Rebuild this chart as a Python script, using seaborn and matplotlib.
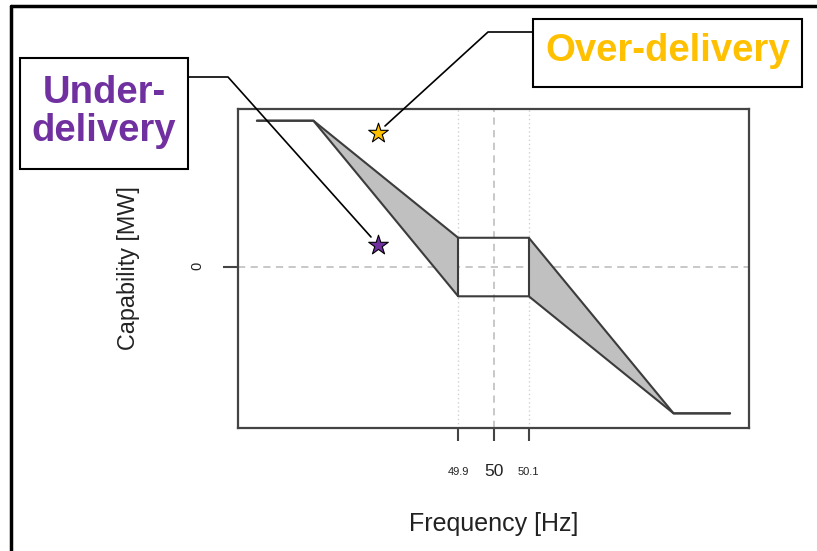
import numpy as np
import pandas as pd
import matplotlib
matplotlib.use("Agg")
import matplotlib.pyplot as plt
from matplotlib.patches import Rectangle
from matplotlib.lines import Line2D
import seaborn as sns

# ---- data ----
freq = [49.33, 49.49, 49.9, 50.1, 50.51, 50.67]
upper_cap = [1.0, 1.0, 0.2, 0.2, -1.0, -1.0]
lower_cap = [1.0, 1.0, -0.2, -0.2, -1.0, -1.0]
tick_freq = [49.9, 50.0, 50.1]
tick_labels = ["49.9", "50", "50.1"]
tick_sizes = [8, 12.5, 8]
star_freq = [49.673, 49.673]
star_cap = [0.915, 0.15]
star_colors = ["#FFC000", "#7030A0"]
over_label = "Over-delivery"
under_label = "Under-\ndelivery"

sns.set_theme(style="white")
plt.rcParams["font.family"] = ["Liberation Sans", "DejaVu Sans"]

W, H = 817, 551
fig = plt.figure(figsize=(W / 100, H / 100), dpi=100)
ax = fig.add_axes([238 / W, 1 - 428 / H, (749 - 238) / W, (428 - 109) / H])

def fp(x, y):
    return (x / W, 1 - y / H)

# reference lines
ax.axhline(0, color="#c4c4c4", lw=1.3, ls=(0, (4, 3)), zorder=0)
ax.axvline(50.0, color="#c4c4c4", lw=1.3, ls=(0, (4, 3)), zorder=0)
for f in (49.9, 50.1):
    ax.axvline(f, color="#d2d2d2", lw=1.0, ls=(0, (1, 2)), zorder=0)

# shaded uncertainty bands
ax.fill_between(freq[1:3], lower_cap[1:3], upper_cap[1:3], color="#c0c0c0", lw=0, zorder=1)
ax.fill_between(freq[3:5], lower_cap[3:5], upper_cap[3:5], color="#c0c0c0", lw=0, zorder=1)

df = pd.concat([
    pd.DataFrame({"freq": freq, "cap": upper_cap, "seg": "upper"}),
    pd.DataFrame({"freq": freq, "cap": lower_cap, "seg": "lower"}),
    pd.DataFrame({"freq": [freq[2], freq[2]], "cap": [lower_cap[2], upper_cap[2]], "seg": "v1"}),
    pd.DataFrame({"freq": [freq[3], freq[3]], "cap": [lower_cap[3], upper_cap[3]], "seg": "v2"}),
])
sns.lineplot(data=df, x="freq", y="cap", units="seg", estimator=None, sort=False,
             color="#3c3c3c", lw=1.5, ax=ax, zorder=2)

# stars
sdf = pd.DataFrame({"freq": star_freq, "cap": star_cap, "c": star_colors})
for _, r in sdf.iterrows():
    ax.scatter([r["freq"]], [r["cap"]], marker="*", s=220, color=r["c"],
               edgecolor="black", linewidth=0.8, zorder=5)

# limits
span = freq[-1] - freq[0]
ax.set_xlim(freq[0] - 0.04 * span, freq[-1] + 0.04 * span)
ax.set_ylim(-1.1, 1.08)

for s in ax.spines.values():
    s.set_color("#444444")
    s.set_linewidth(1.6)

ax.set_xticks(tick_freq)
ax.set_xticklabels(tick_labels)
for lab, fs in zip(ax.get_xticklabels(), tick_sizes):
    lab.set_fontsize(fs)
    lab.set_va("center")
    lab.set_color("#222222")
ax.tick_params(axis="x", length=9.5, width=1.5, color="#444444", pad=22, bottom=True)
ax.set_yticks([0])
ax.set_yticklabels(["0"], rotation=90, fontsize=10.5, color="#222222")
for lab in ax.get_yticklabels():
    lab.set_ha("center")
ax.tick_params(axis="y", length=11, width=1.5, color="#444444", pad=18, left=True)

ax.set_xlabel("Frequency [Hz]", fontsize=18, color="#222222")
ax.xaxis.set_label_coords(0.5, -(524 - 428) / 319)
ax.xaxis.label.set_va("center")
ax.set_ylabel("Capability [MW]", fontsize=16.8, color="#222222")
ax.yaxis.set_label_coords((128 - 238) / 511, 0.5)
ax.yaxis.label.set_va("center")

# figure border (top and left)
fig.add_artist(Line2D([fp(11, 0)[0], fp(11, 0)[0]], [0, fp(0, 6)[1]], color="black", lw=2.5))
fig.add_artist(Line2D([fp(11, 0)[0], 1], [fp(0, 6)[1], fp(0, 6)[1]], color="black", lw=2.5))

# annotation boxes
def box(x0, y0, x1, y1):
    (a, b) = fp(x0, y1)
    fig.add_artist(Rectangle((a, b), (x1 - x0) / W, (y1 - y0) / H,
                             transform=fig.transFigure, facecolor="white",
                             edgecolor="black", lw=1.5, zorder=3))

box(20, 58, 188, 169)
box(533, 19, 802, 87)
fig.text(*fp(104, 112), under_label, ha="center", va="center", fontsize=27.5,
         fontweight="bold", color="#7030A0", linespacing=1.08, zorder=4)
fig.text(*fp(667.5, 51), over_label, ha="center", va="center", fontsize=27.5,
         fontweight="bold", color="#FFC000", zorder=4)

# connectors
pts_u = [fp(188, 77), fp(228, 77), fp(371, 237)]
fig.add_artist(Line2D([p[0] for p in pts_u], [p[1] for p in pts_u], color="black", lw=1.2, zorder=6))
pts_o = [fp(533, 32), fp(488, 32), fp(385, 126)]
fig.add_artist(Line2D([p[0] for p in pts_o], [p[1] for p in pts_o], color="black", lw=1.2, zorder=6))

fig.savefig("out.png", dpi=100, facecolor="white")
